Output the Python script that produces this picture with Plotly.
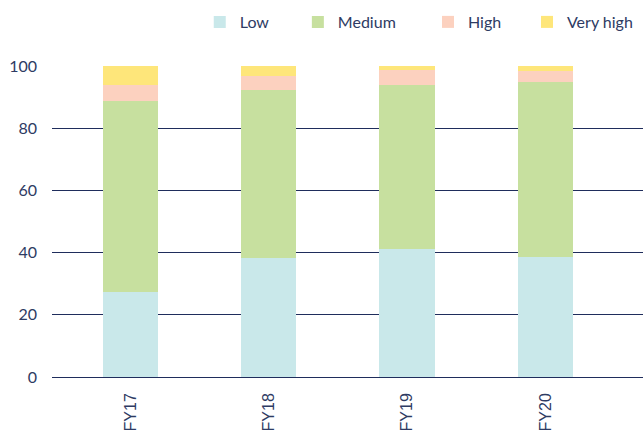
import plotly.graph_objects as go

categories = ["FY17", "FY18", "FY19", "FY20"]
low = [27.3, 38.3, 41.2, 38.6]
medium = [61.4, 54.0, 52.7, 56.3]
high = [5.2, 4.5, 4.8, 3.5]
very_high = [6.0, 3.2, 1.3, 1.6]

series = [
    ("Low", low, "#c9e8ea"),
    ("Medium", medium, "#c7e09f"),
    ("High", high, "#fcd1bf"),
    ("Very high", very_high, "#fee67a"),
]
legend_x = [0.2500, 0.4160, 0.6362, 0.8037]

text_color = "#2e3b63"
grid_color = "#1f2d5c"

fig = go.Figure()
legend_ids = ["legend", "legend2", "legend3", "legend4"]
for (name, vals, col), lid in zip(series, legend_ids):
    fig.add_trace(go.Bar(x=categories, y=vals, name=name, marker_color=col,
                         marker_line_width=0, width=0.4, legend=lid,
                         showlegend=True))

legend_cfg = {}
for lid, lx in zip(legend_ids, legend_x):
    legend_cfg[lid] = dict(orientation="h", x=lx, xanchor="left", y=1.1415,
                           yanchor="middle", font=dict(size=16, color=text_color),
                           bgcolor="rgba(0,0,0,0)")

fig.update_layout(
    barmode="stack",
    showlegend=True,
    width=643, height=430,
    margin=dict(l=52, r=0, t=66, b=53),
    paper_bgcolor="white", plot_bgcolor="white",
    font=dict(family="Lato, sans-serif", size=16, color=text_color),
    xaxis=dict(range=[-0.568, 3.706], tickangle=-90, showgrid=False,
               tickfont=dict(family="Liberation Sans, Arial, sans-serif", size=16, color=text_color),
               ticks="", ticklabelstandoff=12),
    yaxis=dict(range=[0, 100], tickvals=[0, 20, 40, 60, 80, 100],
               showgrid=True, gridcolor=grid_color, gridwidth=1,
               zeroline=True, zerolinecolor=grid_color, zerolinewidth=1,
               ticks="", ticklabelstandoff=14,
               tickfont=dict(size=16, color=text_color)),
    **legend_cfg,
)

fig.write_html("out.html")
